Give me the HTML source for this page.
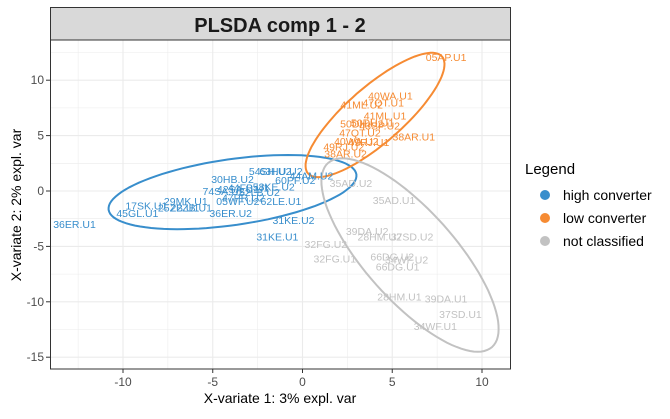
<!DOCTYPE html>
<html><head><meta charset="utf-8"><style>
body{margin:0;background:#fff;font-family:"Liberation Sans",sans-serif;}
</style></head><body>
<svg id="chart" width="670" height="414" xmlns="http://www.w3.org/2000/svg" font-family="Liberation Sans, sans-serif">
<rect x="0" y="0" width="670" height="414" fill="#fff"/>
<g id="grid"></g>
<g id="ellipses"></g>
<g id="labels"></g>
<rect x="50.5" y="7.5" width="460" height="32.5" fill="#d9d9d9" stroke="#333"/>
<text x="280" y="32" text-anchor="middle" font-size="20" font-weight="bold" fill="#1a1a1a">PLSDA comp 1 - 2</text>
<rect x="50.5" y="40" width="460" height="329" fill="none" stroke="#333"/>
<g id="axes"></g>
<text x="280" y="403" text-anchor="middle" font-size="14" fill="#000">X-variate 1: 3% expl. var</text>
<text transform="translate(21,205) rotate(-90)" text-anchor="middle" font-size="14" fill="#000">X-variate 2: 2% expl. var</text>
<g>
<text x="525" y="174" font-size="15" fill="#000">Legend</text>
<circle cx="545" cy="195" r="5" fill="#388ECC"/>
<text x="563" y="200" font-size="14" fill="#000">high converter</text>
<circle cx="545" cy="218" r="5" fill="#F68B33"/>
<text x="563" y="223" font-size="14" fill="#000">low converter</text>
<circle cx="545" cy="241" r="5" fill="#C2C2C2"/>
<text x="563" y="246" font-size="14" fill="#000">not classified</text>
</g>
</svg>
<script>
const xTicks=[-10,-5,0,5,10];
const yTicks=[10,5,0,-5,-10,-15];
const blueNames=["36ER.U1","45GL.U1","17SK.U1","29MK.U1","25ZB.U1","22ZB.U1","30HB.U2","54SH.U2","63HU.U2","74SA.U2","42SA.U1","44FB.U1","52LB.U2","47PR.U2","05WF.U2","36ER.U2","31KE.U2","31KE.U1","60PF.U2","44AM.U2","58KE.U2","62LE.U1"];
const blueX=[-12.7,-9.2,-8.7,-6.5,-6.9,-6.2,-3.9,-1.8,-1.2,-4.4,-3.6,-3.0,-2.4,-3.3,-3.6,-4.0,-0.5,-1.4,-0.4,0.5,-1.6,-1.2];
const blueY=[-3.0,-2.0,-1.3,-0.9,-1.5,-1.5,1.1,1.8,1.8,0.0,0.2,0.3,-0.1,-0.6,-0.9,-2.0,-2.6,-4.1,1.0,1.4,0.4,-0.9];
const orangeNames=["05AP.U1","40WA.U1","47QT.U1","41ML.U2","41ML.U1","50DH.U2","50DH.U1","43SP.U2","47QT.U2","38AR.U1","40WA.U2","49RJ.U1","49RJ.U2","38AR.U2"];
const orangeX=[8.0,4.9,4.5,3.3,4.6,3.3,3.9,4.3,3.2,6.2,3.0,3.7,2.3,2.4];
const orangeY=[12.1,8.6,8.0,7.8,6.8,6.1,6.2,5.9,5.3,4.9,4.5,4.4,4.0,3.4];
const grayNames=["35AD.U2","35AD.U1","39DA.U2","28HM.U2","37SD.U2","32FG.U2","32FG.U1","66DG.U2","34WF.U2","66DG.U1","28HM.U1","39DA.U1","37SD.U1","34WF.U1"];
const grayX=[2.7,5.1,3.6,4.3,6.1,1.3,1.8,5.0,5.8,5.3,5.4,8.0,8.8,7.4];
const grayY=[0.7,-0.8,-3.6,-4.1,-4.1,-4.8,-6.1,-5.9,-6.2,-6.8,-9.5,-9.7,-11.1,-12.2];
const ellBlue=[-3.9,-0.1,6.9,1.6,-0.27,2.94];
const ellOrange=[4.04,6.86,3.73,5.28,1.03,-1.9];
const ellGray=[5.99,-5.78,4.57,-8.3,1.87,2.7];

const X=v=>302.5+v*17.95, Y=v=>191-v*11.08;
const NS="http://www.w3.org/2000/svg";
function mk(tag,attrs,parent){const e=document.createElementNS(NS,tag);for(const k in attrs)e.setAttribute(k,attrs[k]);parent.appendChild(e);return e;}
const grid=document.getElementById('grid');
for(let v=-12.5;v<=10;v+=2.5){const major=v%5===0;
 const l=mk('line',{x1:X(v),x2:X(v),y1:40,y2:369,stroke:'#ebebeb','stroke-width':major?1.1:0.55},grid);
 
 }
for(let v=-15;v<=12.5;v+=2.5){const major=v%5===0;
 const l=mk('line',{x1:50,x2:510,y1:Y(v),y2:Y(v),stroke:'#ebebeb','stroke-width':major?1.1:0.55},grid);
 
 }
const axes=document.getElementById('axes');
xTicks.forEach(v=>{mk('line',{x1:X(v),x2:X(v),y1:369,y2:373,stroke:'#333'},axes);
 const t=mk('text',{x:X(v),y:386,'text-anchor':'middle','font-size':12,fill:'#4d4d4d'},axes);t.textContent=v;
 
 });
yTicks.forEach(v=>{mk('line',{x1:46,x2:50,y1:Y(v),y2:Y(v),stroke:'#333'},axes);
 const t=mk('text',{x:44,y:Y(v)+4,'text-anchor':'end','font-size':12,fill:'#4d4d4d'},axes);t.textContent=v;
 
 });
const eg=document.getElementById('ellipses');
function ell(p,col,name){let d='';for(let i=0;i<=100;i++){const t=i/100*2*Math.PI;
 const x=p[0]+p[2]*Math.cos(t)+p[4]*Math.sin(t), y=p[1]+p[3]*Math.cos(t)+p[5]*Math.sin(t);
 d+=(i?'L':'M')+X(x).toFixed(1)+','+Y(y).toFixed(1);}
 const e=mk('path',{d:d+'Z',fill:'none',stroke:col,'stroke-width':2},eg);
 
 }
ell(ellBlue,'#388ECC','ellipse-high-converter');
ell(ellOrange,'#F68B33','ellipse-low-converter');
ell(ellGray,'#C2C2C2','ellipse-not-classified');
const lg=document.getElementById('labels');
function labels(names,xs,ys,col){names.forEach((n,i)=>{
 const t=mk('text',{x:X(xs[i]),y:Y(ys[i])+4,'text-anchor':'middle','font-size':10.5,fill:col},lg);t.textContent=n;
 
 });}
labels(grayNames,grayX,grayY,'#C2C2C2');
labels(blueNames,blueX,blueY,'#388ECC');
labels(orangeNames,orangeX,orangeY,'#F68B33');
</script>
</body></html>
